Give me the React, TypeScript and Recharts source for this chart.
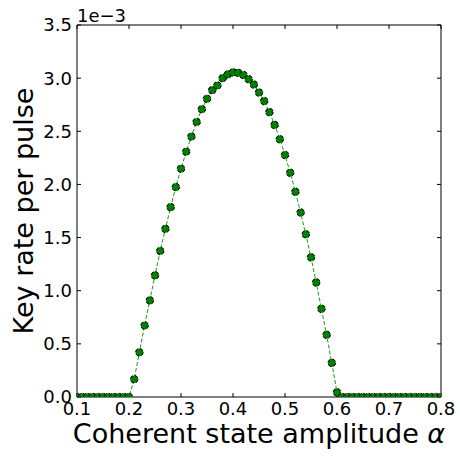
import React from 'react';
import { LineChart, Line, XAxis, YAxis } from 'recharts';

const alphaValues = [
  0.10, 0.11, 0.12, 0.13, 0.14, 0.15, 0.16, 0.17, 0.18, 0.19,
  0.20, 0.21, 0.22, 0.23, 0.24, 0.25, 0.26, 0.27, 0.28, 0.29,
  0.30, 0.31, 0.32, 0.33, 0.34, 0.35, 0.36, 0.37, 0.38, 0.39,
  0.40, 0.41, 0.42, 0.43, 0.44, 0.45, 0.46, 0.47, 0.48, 0.49,
  0.50, 0.51, 0.52, 0.53, 0.54, 0.55, 0.56, 0.57, 0.58, 0.59,
  0.60, 0.61, 0.62, 0.63, 0.64, 0.65, 0.66, 0.67, 0.68, 0.69,
  0.70, 0.71, 0.72, 0.73, 0.74, 0.75, 0.76, 0.77, 0.78, 0.79,
  0.80,
];

// key rate per pulse, in units of 1e-3
const keyRateE3 = [
  0, 0, 0, 0, 0, 0, 0, 0, 0, 0,
  0, 0.167, 0.42, 0.673, 0.909, 1.144, 1.374, 1.582, 1.786, 1.975,
  2.148, 2.308, 2.45, 2.588, 2.708, 2.805, 2.887, 2.931, 3.0, 3.035,
  3.054, 3.05, 3.03, 2.99, 2.94, 2.865, 2.784, 2.68, 2.56, 2.425,
  2.277, 2.11, 1.931, 1.736, 1.531, 1.314, 1.078, 0.83, 0.585, 0.321,
  0.044, 0, 0, 0, 0, 0, 0, 0, 0, 0,
  0, 0, 0, 0, 0, 0, 0, 0, 0, 0,
  0,
];

const xTicks = [0.1, 0.2, 0.3, 0.4, 0.5, 0.6, 0.7, 0.8];
const yTicks = [0, 0.5, 1.0, 1.5, 2.0, 2.5, 3.0, 3.5];

const offsetText = '1e\u22123';
const yLabel = 'Key rate per pulse';
const xLabel = 'Coherent state amplitude ';
const xLabelSymbol = '\u03b1';

const data = alphaValues.map((a, i) => ({ alpha: a, rate: keyRateE3[i] }));

const FONT = 'DejaVu Sans';
const tickStyle = { fontSize: 18, fill: '#000', fontFamily: FONT };

export default function App() {
  return (
    <div style={{ position: 'absolute', left: 0, top: 0, width: 460, height: 456, background: '#fff' }}>
      <LineChart width={460} height={456} data={data} margin={{ top: 0, right: 0, bottom: 0, left: 0 }}>
        <XAxis
          xAxisId="bottom"
          dataKey="alpha"
          type="number"
          domain={[0.1, 0.8]}
          ticks={xTicks}
          allowDataOverflow
          height={59}
          tickSize={-4}
          tickMargin={9}
          tickFormatter={(v: number) => v.toFixed(1)}
          tick={tickStyle}
          axisLine={{ stroke: '#000', strokeWidth: 1 }}
          tickLine={{ stroke: '#000' }}
          label={(props: any) => {
            const vb = props.viewBox || { x: 77, width: 364 };
            return (
              <text x={vb.x + vb.width / 2} y={443} textAnchor="middle" fontSize={27} fontFamily={FONT} fill="#000">
                {xLabel}
                <tspan fontStyle="italic">{xLabelSymbol}</tspan>
              </text>
            );
          }}
        />
        <XAxis
          xAxisId="top"
          dataKey="alpha"
          type="number"
          orientation="top"
          domain={[0.1, 0.8]}
          ticks={xTicks}
          allowDataOverflow
          height={25}
          tickSize={-4}
          tickFormatter={() => ''}
          axisLine={{ stroke: '#000', strokeWidth: 1 }}
          tickLine={{ stroke: '#000' }}
          label={(props: any) => {
            const vb = props.viewBox || { x: 77 };
            return (
              <text x={vb.x} y={22} textAnchor="start" fontSize={18} fontFamily={FONT} fill="#000">
                {offsetText}
              </text>
            );
          }}
        />
        <YAxis
          yAxisId="left"
          type="number"
          domain={[0, 3.5]}
          ticks={yTicks}
          allowDataOverflow
          width={77}
          tickSize={-4}
          tickMargin={9}
          tickFormatter={(v: number) => v.toFixed(1)}
          tick={tickStyle}
          axisLine={{ stroke: '#000', strokeWidth: 1 }}
          tickLine={{ stroke: '#000' }}
          label={(props: any) => {
            const vb = props.viewBox || { y: 25, height: 372 };
            const cy = vb.y + vb.height / 2;
            return (
              <text
                x={33}
                y={cy}
                transform={`rotate(-90, 33, ${cy})`}
                textAnchor="middle"
                fontSize={27}
                fontFamily={FONT}
                fill="#000"
              >
                {yLabel}
              </text>
            );
          }}
        />
        <YAxis
          yAxisId="right"
          orientation="right"
          type="number"
          domain={[0, 3.5]}
          ticks={yTicks}
          allowDataOverflow
          width={19}
          tickSize={-4}
          tickFormatter={() => ''}
          axisLine={{ stroke: '#000', strokeWidth: 1 }}
          tickLine={{ stroke: '#000' }}
        />
        <Line
          xAxisId="bottom"
          yAxisId="left"
          dataKey="rate"
          type="linear"
          stroke="#1f9a1f"
          strokeWidth={1}
          strokeDasharray="4 2"
          dot={{ r: 3.8, fill: '#008000', stroke: '#000', strokeWidth: 1, fillOpacity: 1 }}
          activeDot={false}
          isAnimationActive={false}
        />
      </LineChart>
    </div>
  );
}
